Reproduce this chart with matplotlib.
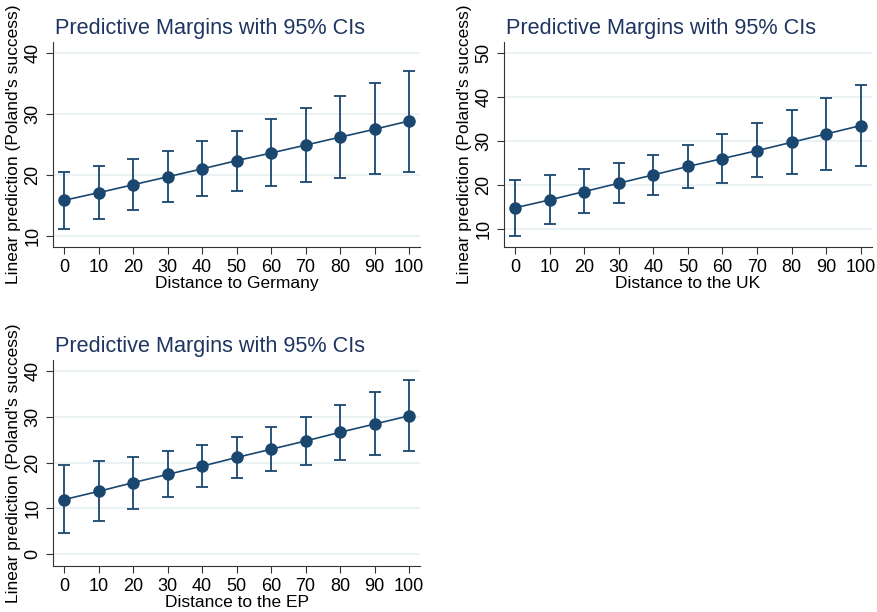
import numpy as np
import matplotlib
matplotlib.use("Agg")
import matplotlib.pyplot as plt

plt.rcParams['font.family'] = ['Liberation Sans', 'DejaVu Sans']

# Distance values (x axis), shared by the three panels
distance = [0, 10, 20, 30, 40, 50, 60, 70, 80, 90, 100]

# Germany
ger_margin = [15.85, 17.1, 18.4, 19.7, 21.0, 22.35, 23.6, 24.9, 26.2, 27.5, 28.85]
ger_upper = [20.5, 21.5, 22.6, 23.9, 25.5, 27.2, 29.1, 31.0, 33.0, 35.1, 37.1]
ger_lower = [11.15, 12.8, 14.2, 15.5, 16.55, 17.4, 18.2, 18.85, 19.5, 20.1, 20.5]

# UK
uk_margin = [14.8, 16.6, 18.5, 20.4, 22.3, 24.2, 26.0, 27.8, 29.7, 31.6, 33.5]
uk_upper = [21.2, 22.3, 23.6, 25.0, 26.8, 29.0, 31.5, 34.05, 37.0, 39.8, 42.7]
uk_lower = [8.4, 11.1, 13.6, 15.8, 17.65, 19.2, 20.45, 21.7, 22.6, 23.4, 24.2]

# EP
ep_margin = [11.9, 13.7, 15.6, 17.4, 19.2, 21.1, 22.9, 24.7, 26.6, 28.4, 30.2]
ep_upper = [19.35, 20.3, 21.3, 22.5, 23.9, 25.6, 27.7, 30.0, 32.6, 35.4, 38.1]
ep_lower = [4.5, 7.3, 9.9, 12.4, 14.7, 16.6, 18.2, 19.5, 20.6, 21.6, 22.5]

navy = '#1a476f'
title_col = '#1e3560'
grid_col = '#e8f0f2'

fig = plt.figure(figsize=(8.78, 6.12), dpi=100)
fig.patch.set_facecolor('white')

panels = [
    ([0.0604, 0.5964, 0.418, 0.335], ger_margin, ger_lower, ger_upper,
     'Distance to Germany', (8.2, 41.8), [10, 20, 30, 40]),
    ([0.574, 0.5964, 0.419, 0.335], uk_margin, uk_lower, uk_upper,
     'Distance to the UK', (5.9, 52.5), [10, 20, 30, 40, 50]),
    ([0.0604, 0.0752, 0.418, 0.3366], ep_margin, ep_lower, ep_upper,
     'Distance to the EP', (-2.6, 42.4), [0, 10, 20, 30, 40]),
]

for rect, m, lo, hi, xlab, ylim, yticks in panels:
    ax = fig.add_axes(rect)
    m = np.array(m)
    yerr = [m - np.array(lo), np.array(hi) - m]
    ax.errorbar(distance, m, yerr=yerr, fmt='none', ecolor=navy,
                elinewidth=1.3, capsize=4.5, capthick=1.3, zorder=3)
    ax.plot(distance, m, color=navy, lw=1.2, marker='o', markersize=8,
            markerfacecolor=navy, markeredgecolor=navy, zorder=4)
    ax.set_xlim(-3.2, 103.2)
    ax.set_ylim(*ylim)
    ax.set_xticks(distance)
    ax.set_yticks(yticks)
    ax.tick_params(axis='both', direction='out', length=5, width=0.8,
                   labelsize=13, colors='#333333', labelcolor='black')
    for lab in ax.get_yticklabels():
        lab.set_rotation(90)
        lab.set_va('center')
    ax.grid(axis='y', color=grid_col, lw=1.2)
    ax.set_axisbelow(True)
    ax.spines['top'].set_visible(False)
    ax.spines['right'].set_visible(False)
    ax.spines['left'].set_color('#333333')
    ax.spines['bottom'].set_color('#333333')
    ax.set_xlabel(xlab, fontsize=12.5, labelpad=0)
    ax.set_ylabel("Linear prediction (Poland's success)", fontsize=12.5, labelpad=2)
    ax.annotate('Predictive Margins with 95% CIs', xy=(0.005, 1.0),
                xycoords='axes fraction', xytext=(0, 2), textcoords='offset points',
                fontsize=15.6, color=title_col, ha='left', va='bottom')

fig.savefig('out.png', dpi=100)
